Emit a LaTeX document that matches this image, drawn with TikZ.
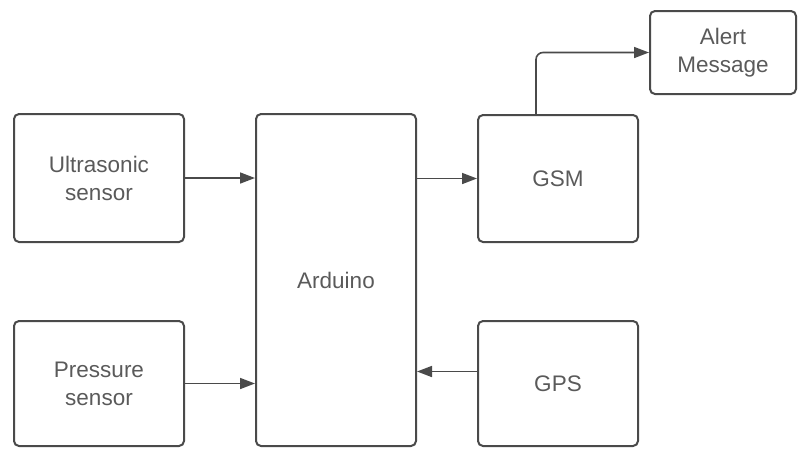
\documentclass[tikz,border=0pt]{standalone}
\usepackage{fontspec}
\setmainfont{Liberation Sans}
\usepackage{xcolor}
\usepackage{tikz}
\usetikzlibrary{positioning, arrows.meta}

\definecolor{boxline}{HTML}{4A4A4A}
\definecolor{boxtext}{HTML}{5A5A5A}

\begin{document}
\begin{tikzpicture}[x=1pt, y=-1pt,
    block/.style={draw=boxline, line width=2pt, rounded corners=5pt, align=center,
      inner sep=0pt, text=boxtext, font=\fontsize{22.5}{28}\selectfont},
    link/.style={draw=boxline, line width=1.6pt, -{Triangle[length=15pt, width=11pt]}}]
        % Frame of the picture
        \useasboundingbox (0,0) rectangle (801,448);
        % Input side
        \node[block, minimum width=170pt, minimum height=128pt] (ultra) at (99,178) {Ultrasonic\\sensor};
        \node[block, minimum width=170pt, minimum height=125pt] (press) at (99,383.5) {Pressure\\sensor};
        % Controller
        \node[block, minimum width=160pt, minimum height=332pt] (arduino) at (336,280) {Arduino};
        % Output side
        \node[block, minimum width=160pt, minimum height=127pt] (gsm) at (558,178.5) {GSM};
        \node[block, minimum width=160pt, minimum height=125pt] (gps) at (558,383.5) {GPS};
        \node[block, minimum width=146pt, minimum height=83pt] (alert) at (723,52.5) {Alert\\Message};
        % Connections
        \draw[link] (ultra.east) -- (ultra.east -| arduino.west);
        \draw[link] (press.east) -- (press.east -| arduino.west);
        \draw[link] (arduino.east |- gsm.west) -- (gsm.west);
        \draw[link] ([yshift=12pt]gps.west) -- ([yshift=12pt]gps.west -| arduino.east);
        \draw[link, rounded corners=7pt] ([xshift=-22pt]gsm.north) |- (alert.west);
      \end{tikzpicture}
\end{document}
